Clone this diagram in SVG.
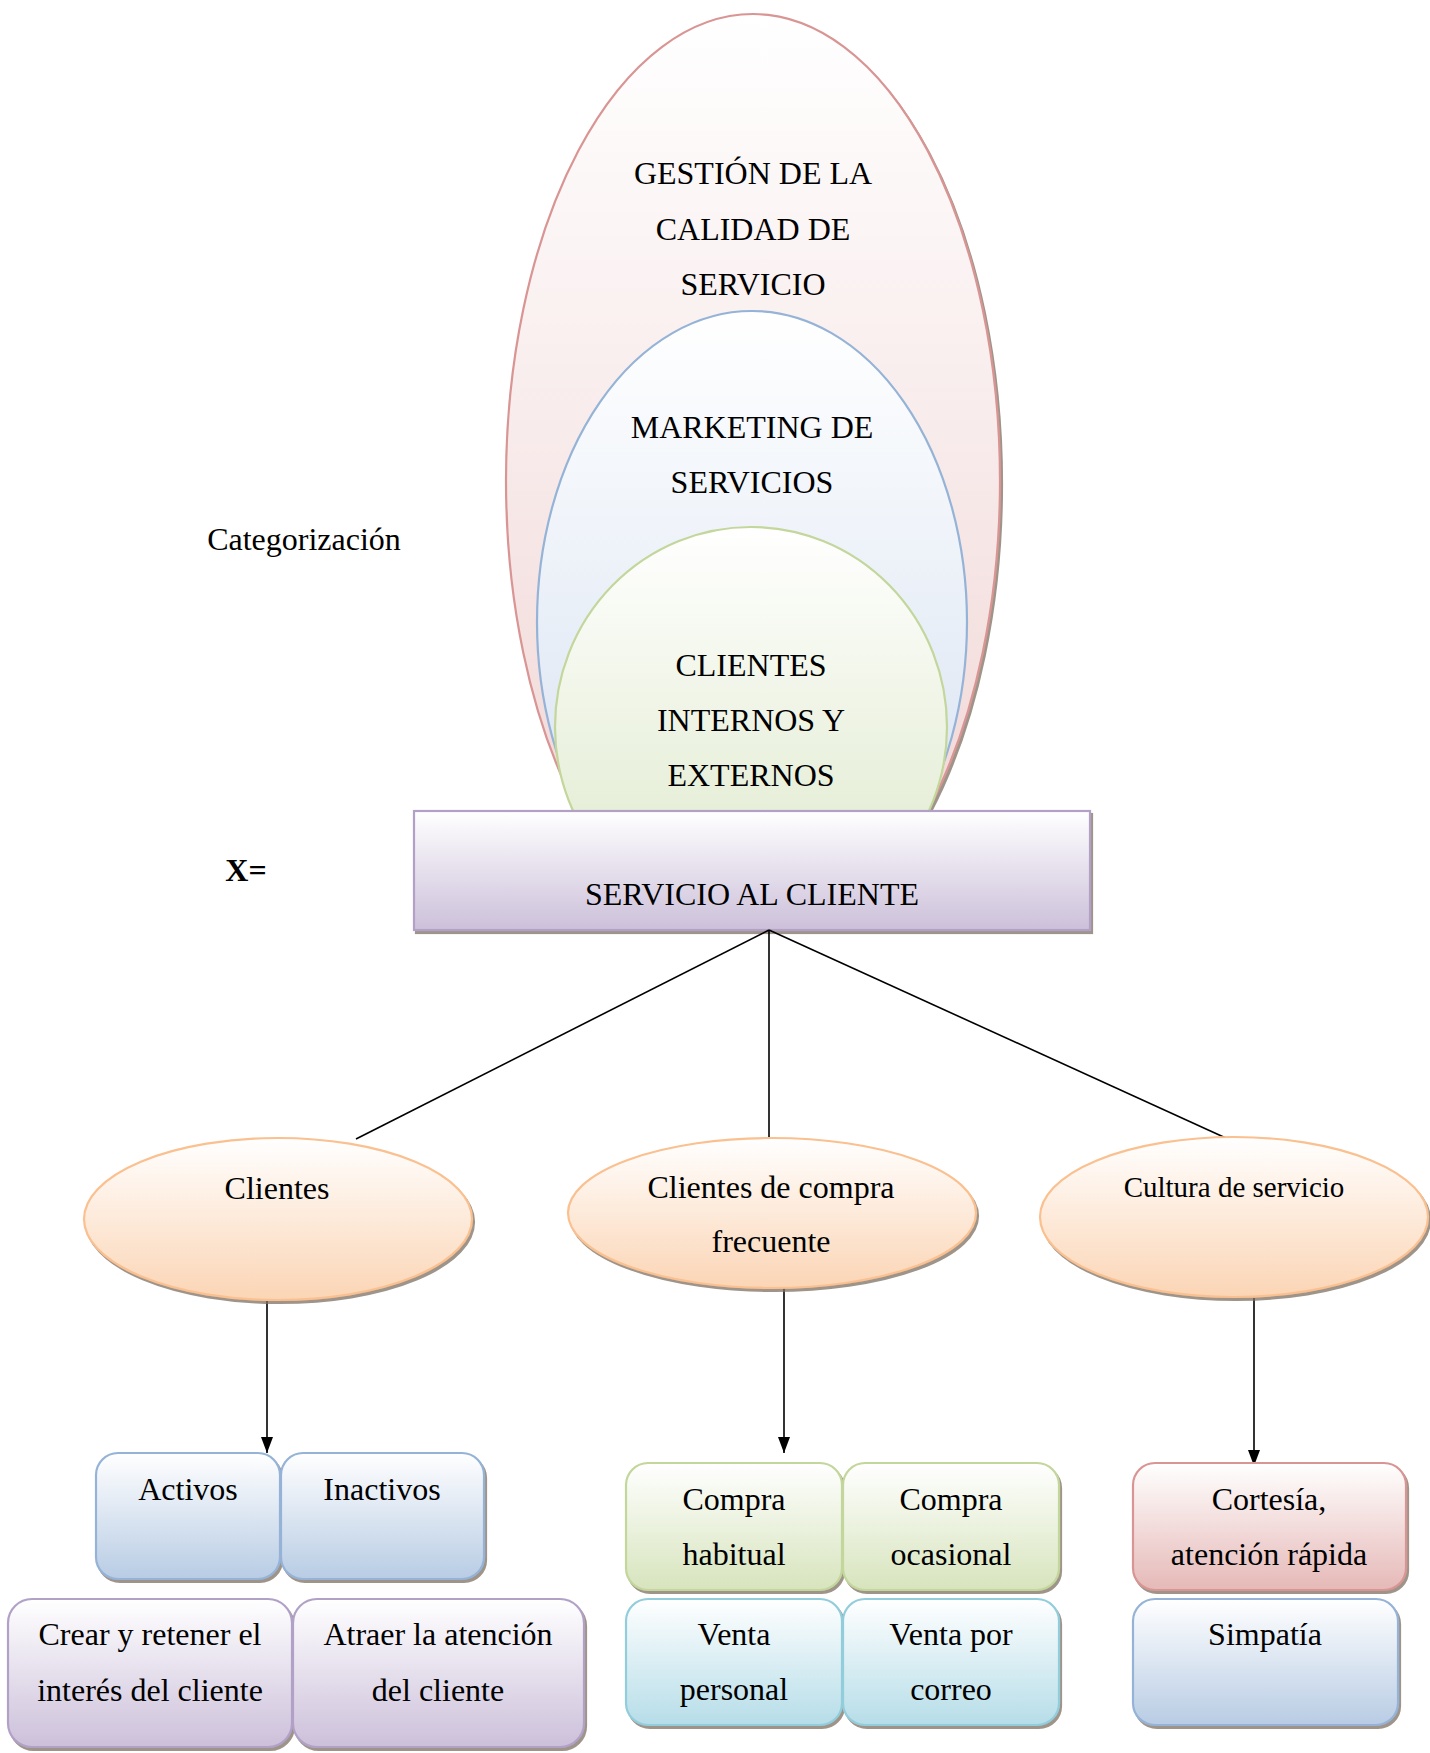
<svg xmlns="http://www.w3.org/2000/svg" width="1430" height="1753" viewBox="0 0 1430 1753">
<style>
text{font-family:"Liberation Serif","Times New Roman",serif;font-size:32px;fill:#000;text-anchor:middle}
.conn{stroke:#000;stroke-width:1.6;fill:none}
.box{stroke-width:2.2}
</style>
<defs>
<linearGradient id="gRed" x1="0" y1="0" x2="0" y2="1"><stop offset="0" stop-color="#fff"/><stop offset="1" stop-color="#efd3d2"/></linearGradient>
<linearGradient id="gBlue" x1="0" y1="0" x2="0" y2="1"><stop offset="0" stop-color="#fff"/><stop offset="1" stop-color="#d3dff0"/></linearGradient>
<linearGradient id="gGreen" x1="0" y1="0" x2="0" y2="1"><stop offset="0" stop-color="#fff"/><stop offset="1" stop-color="#dde8c9"/></linearGradient>
<linearGradient id="gPurple" x1="0" y1="0" x2="0" y2="1"><stop offset="0" stop-color="#fff"/><stop offset="1" stop-color="#ccc0da"/></linearGradient>
<linearGradient id="gOrange" x1="0" y1="0" x2="0" y2="1"><stop offset="0" stop-color="#fff"/><stop offset="1" stop-color="#fbd5b5"/></linearGradient>
<linearGradient id="gBoxBlue" x1="0" y1="0" x2="0" y2="1"><stop offset="0" stop-color="#fff"/><stop offset="1" stop-color="#b8cce4"/></linearGradient>
<linearGradient id="gBoxGreen" x1="0" y1="0" x2="0" y2="1"><stop offset="0" stop-color="#fff"/><stop offset="1" stop-color="#d7e4bd"/></linearGradient>
<linearGradient id="gBoxCyan" x1="0" y1="0" x2="0" y2="1"><stop offset="0" stop-color="#fff"/><stop offset="1" stop-color="#b6dde8"/></linearGradient>
<linearGradient id="gBoxRed" x1="0" y1="0" x2="0" y2="1"><stop offset="0" stop-color="#fff"/><stop offset="1" stop-color="#e5b9b7"/></linearGradient>
<filter id="sh" x="-5%" y="-5%" width="110%" height="115%"><feDropShadow dx="2" dy="3" stdDeviation="0.4" flood-color="#7f6f62" flood-opacity="0.75"/></filter>
<clipPath id="topClip"><rect x="0" y="0" width="1430" height="820"/></clipPath>
<marker id="arr" viewBox="0 0 16 12" refX="16" refY="6" markerWidth="16" markerHeight="12" markerUnits="userSpaceOnUse" orient="auto">
<path d="M0,0 L16,6 L0,12 Z" fill="#000"/>
</marker>
</defs>

<g id="categorizacion"><text x="304" y="550">Categorización</text></g>
<g id="x-label"><text x="246" y="881" style="font-weight:bold">X=</text></g>

<g clip-path="url(#topClip)">
<g id="gestion">
<ellipse cx="753" cy="481" rx="247" ry="467" fill="url(#gRed)" stroke="#d99594" stroke-width="2.2" filter="url(#sh)"/>
<text x="753" y="184">GESTIÓN DE LA</text>
<text x="753" y="240">CALIDAD DE</text>
<text x="753" y="295">SERVICIO</text>
</g>
<g id="marketing">
<ellipse cx="752" cy="622" rx="215" ry="311" fill="url(#gBlue)" stroke="#95b3d7" stroke-width="2.2"/>
<text x="752" y="438">MARKETING DE</text>
<text x="752" y="493">SERVICIOS</text>
</g>
<g id="clientes-int-ext">
<ellipse cx="751" cy="727" rx="196" ry="200" fill="url(#gGreen)" stroke="#c3d69b" stroke-width="2.2"/>
<text x="751" y="676">CLIENTES</text>
<text x="751" y="731">INTERNOS Y</text>
<text x="751" y="786">EXTERNOS</text>
</g>
</g>
<g id="servicio">
<rect x="414" y="811" width="676" height="119" fill="url(#gPurple)" stroke="#b2a1c7" stroke-width="2.2" filter="url(#sh)"/>
<text x="752" y="905">SERVICIO AL CLIENTE</text>
</g>

<g id="connectors">
<line class="conn" x1="769" y1="930" x2="356" y2="1139"/>
<line class="conn" x1="769" y1="930" x2="769" y2="1139"/>
<line class="conn" x1="769" y1="930" x2="1228" y2="1139"/>
<line class="conn" x1="267" y1="1301" x2="267" y2="1453" marker-end="url(#arr)"/>
<line class="conn" x1="784" y1="1288" x2="784" y2="1453" marker-end="url(#arr)"/>
<line class="conn" x1="1254" y1="1298" x2="1254" y2="1466" marker-end="url(#arr)"/>
</g>

<g id="clientes">
<ellipse cx="278" cy="1219" rx="194" ry="81" fill="url(#gOrange)" stroke="#fac090" stroke-width="2.2" filter="url(#sh)"/>
<text x="277" y="1199">Clientes</text>
</g>
<g id="compra-frecuente">
<ellipse cx="772" cy="1213" rx="204" ry="75" fill="url(#gOrange)" stroke="#fac090" stroke-width="2.2" filter="url(#sh)"/>
<text x="771" y="1198">Clientes de compra</text>
<text x="771" y="1252">frecuente</text>
</g>
<g id="cultura">
<ellipse cx="1234" cy="1217" rx="194" ry="80" fill="url(#gOrange)" stroke="#fac090" stroke-width="2.2" filter="url(#sh)"/>
<text x="1234" y="1197" style="font-size:29px">Cultura de servicio</text>
</g>

<g id="activos">
<rect class="box" x="96" y="1453" width="184" height="126" rx="22" fill="url(#gBoxBlue)" stroke="#95b3d7" filter="url(#sh)"/>
<text x="188" y="1500">Activos</text>
</g>
<g id="inactivos">
<rect class="box" x="281" y="1453" width="203" height="126" rx="22" fill="url(#gBoxBlue)" stroke="#95b3d7" filter="url(#sh)"/>
<text x="382" y="1500">Inactivos</text>
</g>
<g id="crear">
<rect class="box" x="8" y="1599" width="284" height="148" rx="24" fill="url(#gPurple)" stroke="#b2a1c7" filter="url(#sh)"/>
<text x="150" y="1645">Crear y retener el</text>
<text x="150" y="1701">interés del cliente</text>
</g>
<g id="atraer">
<rect class="box" x="293" y="1599" width="291" height="148" rx="24" fill="url(#gPurple)" stroke="#b2a1c7" filter="url(#sh)"/>
<text x="438" y="1645">Atraer la atención</text>
<text x="438" y="1701">del cliente</text>
</g>

<g id="compra-habitual">
<rect class="box" x="626" y="1463" width="216" height="127" rx="22" fill="url(#gBoxGreen)" stroke="#c3d69b" filter="url(#sh)"/>
<text x="734" y="1510">Compra</text>
<text x="734" y="1565">habitual</text>
</g>
<g id="compra-ocasional">
<rect class="box" x="843" y="1463" width="216" height="127" rx="22" fill="url(#gBoxGreen)" stroke="#c3d69b" filter="url(#sh)"/>
<text x="951" y="1510">Compra</text>
<text x="951" y="1565">ocasional</text>
</g>
<g id="venta-personal">
<rect class="box" x="626" y="1599" width="216" height="126" rx="22" fill="url(#gBoxCyan)" stroke="#92cddc" filter="url(#sh)"/>
<text x="734" y="1645">Venta</text>
<text x="734" y="1700">personal</text>
</g>
<g id="venta-correo">
<rect class="box" x="843" y="1599" width="216" height="126" rx="22" fill="url(#gBoxCyan)" stroke="#92cddc" filter="url(#sh)"/>
<text x="951" y="1645">Venta por</text>
<text x="951" y="1700">correo</text>
</g>

<g id="cortesia">
<rect class="box" x="1133" y="1463" width="273" height="127" rx="22" fill="url(#gBoxRed)" stroke="#d99594" filter="url(#sh)"/>
<text x="1269" y="1510">Cortesía,</text>
<text x="1269" y="1565">atención rápida</text>
</g>
<g id="simpatia">
<rect class="box" x="1133" y="1599" width="265" height="126" rx="22" fill="url(#gBoxBlue)" stroke="#95b3d7" filter="url(#sh)"/>
<text x="1265" y="1645">Simpatía</text>
</g>
</svg>
